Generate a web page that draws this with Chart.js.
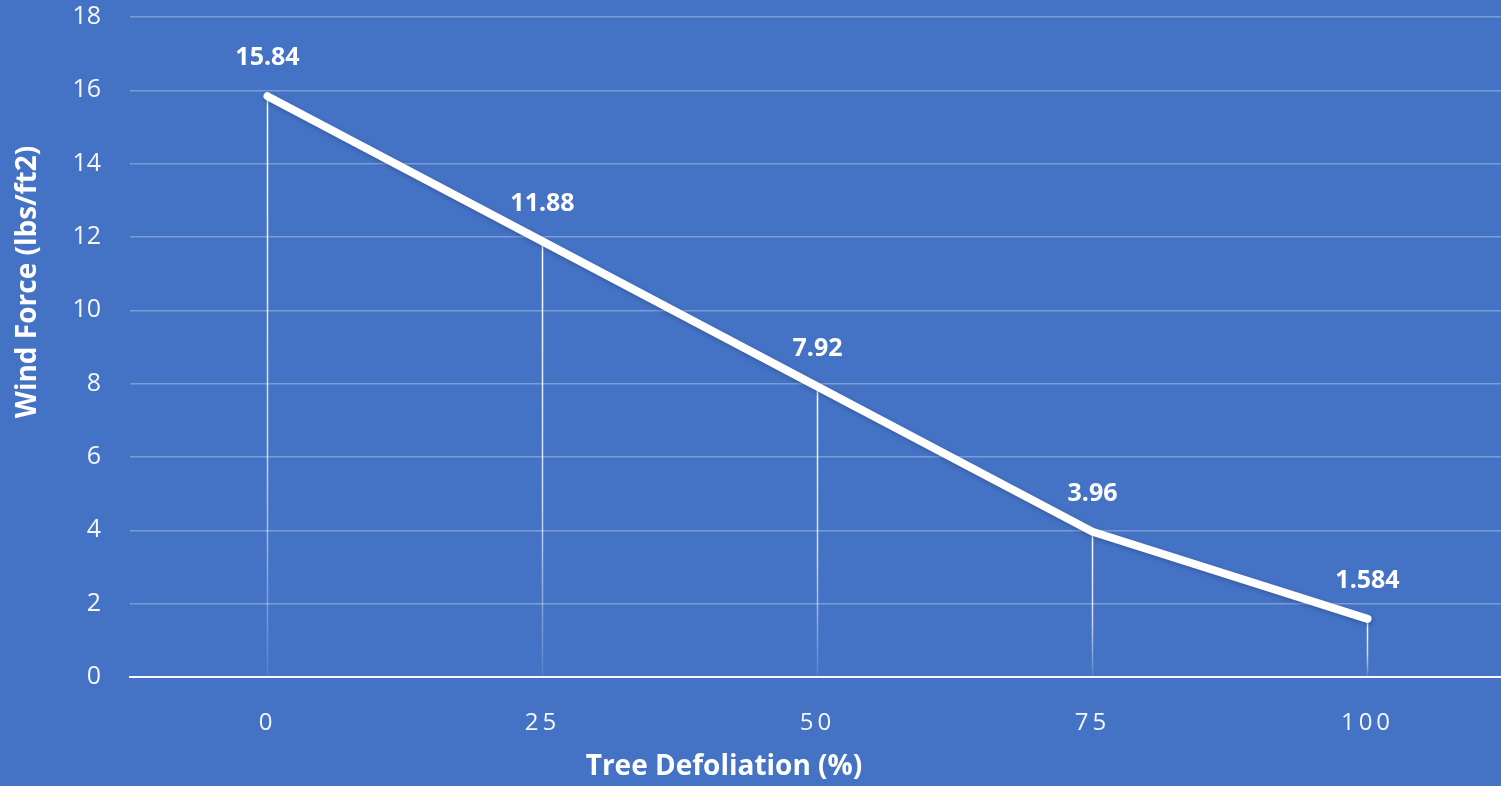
<!DOCTYPE html>
<html>
<head>
<meta charset="utf-8">
<title>Wind Force vs Tree Defoliation</title>
<script src="https://cdn.jsdelivr.net/npm/chart.js@4.4.1/dist/chart.umd.min.js"></script>
<style>
  html, body { margin: 0; padding: 0; background: #4472C4; overflow: hidden; }
  #wrap { width: 1505px; height: 786px; }
</style>
</head>
<body>
<div id="wrap"><canvas id="grafica" width="1505" height="786"></canvas></div>
<script>
// datos
const defoliation = ['0', '25', '50', '75', '100'];
const windForce = [15.84, 11.88, 7.92, 3.96, 1.584];
const valueLabels = ['15.84', '11.88', '7.92', '3.96', '1.584'];
const yTitle = 'Wind Force (lbs/ft2)';
const xTitle = 'Tree Defoliation (%)';

const FONT = "'Open Sans', 'Noto Sans', sans-serif";

// lineas verticales desde cada punto hasta el eje x
const dropLines = {
    id: 'dropLines',
    beforeDatasetsDraw(chart) {
        const ctx = chart.ctx;
        const meta = chart.getDatasetMeta(0);
        const yBase = chart.scales.y.getPixelForValue(0);
        ctx.save();
        meta.data.forEach(pt => {
            const g = ctx.createLinearGradient(0, pt.y, 0, yBase);
            g.addColorStop(0, 'rgba(255,255,255,1)');
            g.addColorStop(0.6, 'rgba(255,255,255,0.75)');
            g.addColorStop(1, 'rgba(255,255,255,0.1)');
            ctx.strokeStyle = g;
            ctx.lineWidth = 1.5;
            ctx.beginPath();
            ctx.moveTo(pt.x, pt.y);
            ctx.lineTo(pt.x, yBase);
            ctx.stroke();
        });
        ctx.restore();
    }
};

// sombra de la linea
const lineShadow = {
    id: 'lineShadow',
    beforeDatasetDraw(chart) {
        const ctx = chart.ctx;
        ctx.save();
        ctx.shadowColor = 'rgba(40,60,110,0.45)';
        ctx.shadowBlur = 4;
        ctx.shadowOffsetX = 1;
        ctx.shadowOffsetY = 2;
    },
    afterDatasetDraw(chart) {
        chart.ctx.restore();
    }
};

// etiquetas de valores y titulos de ejes
const textos = {
    id: 'textos',
    afterDatasetsDraw(chart) {
        const ctx = chart.ctx;
        const meta = chart.getDatasetMeta(0);
        ctx.save();
        ctx.fillStyle = '#ffffff';
        ctx.font = 'bold 25px ' + FONT;
        ctx.textAlign = 'center';
        ctx.textBaseline = 'middle';
        meta.data.forEach((pt, i) => {
            ctx.fillText(valueLabels[i], pt.x, pt.y - 38);
        });

        ctx.font = 'bold 28px ' + FONT;
        ctx.fillText(xTitle, 724, 767);

        ctx.translate(28, 282);
        ctx.rotate(-Math.PI / 2);
        ctx.fillText(yTitle, 0, 0);
        ctx.restore();
    }
};

const ctx = document.getElementById('grafica').getContext('2d');
const chartInstance = new Chart(ctx, {
    type: 'line',
    data: {
        labels: defoliation,
        datasets: [{
            data: windForce,
            borderColor: '#ffffff',
            borderWidth: 8,
            borderCapStyle: 'round',
            borderJoinStyle: 'round',
            pointRadius: 0,
            pointHoverRadius: 0,
            tension: 0,
            fill: false
        }]
    },
    options: {
        responsive: false,
        animation: false,
        events: [],
        layout: { padding: { top: 17, left: 0, right: 0, bottom: 0 } },
        plugins: {
            legend: { display: false },
            tooltip: { enabled: false }
        },
        scales: {
            x: {
                type: 'category',
                offset: true,
                grid: { display: false },
                border: { display: true, color: '#ffffff', width: 2 },
                ticks: {
                    color: '#f4f7fc',
                    font: { family: FONT, size: 24 },
                    padding: 24,
                    maxRotation: 0
                },
                afterFit(scale) {
                    scale.height = 109;
                    scale.paddingLeft = 0;
                    scale.paddingRight = 0;
                    // espaciado entre letras de las etiquetas del eje x
                    if (!scale._spaced) {
                        const orig = scale.drawLabels.bind(scale);
                        scale.drawLabels = function (area) {
                            const c = this.ctx;
                            c.save();
                            c.letterSpacing = '4px';
                            orig(area);
                            c.restore();
                        };
                        scale._spaced = true;
                    }
                }
            },
            y: {
                min: 0,
                max: 18,
                ticks: {
                    stepSize: 2,
                    color: '#f4f7fc',
                    font: { family: FONT, size: 25 },
                    padding: 29
                },
                grid: {
                    color: 'rgba(255,255,255,0.3)',
                    lineWidth: 1.5,
                    drawTicks: false
                },
                border: { display: false },
                afterFit(scale) {
                    scale.width = 130;
                    scale.paddingTop = 0;
                    scale.paddingBottom = 0;
                }
            }
        }
    },
    plugins: [dropLines, lineShadow, textos]
});
</script>
</body>
</html>
